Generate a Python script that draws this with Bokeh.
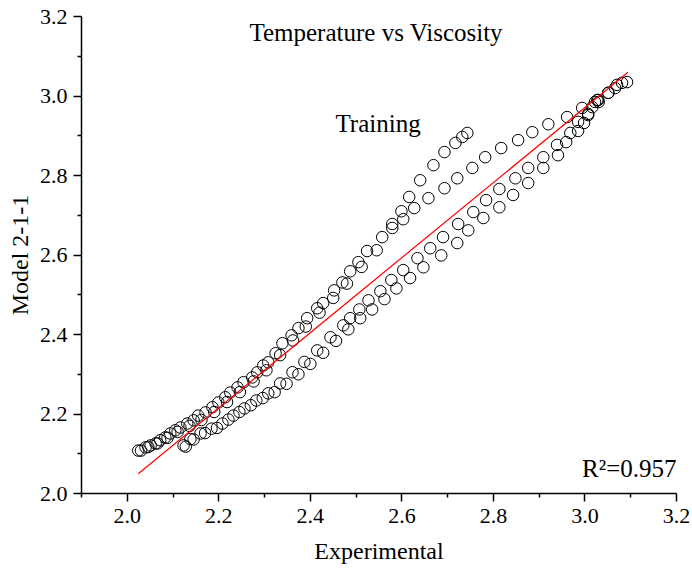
from bokeh.plotting import figure
from bokeh.models import FixedTicker, PrintfTickFormatter, Label, Range1d
from bokeh.embed import file_html
from bokeh.resources import INLINE

# Upper branch (steeper)
a_exp = [2.024,2.040,2.051,2.062,2.072,2.083,2.094,2.105,2.116,2.131,2.145,2.155,2.171,2.186,2.199,2.214,2.225,2.241,2.254,2.273,2.284,2.297,2.308,2.324,2.339,2.359,2.374,2.393,2.415,2.428,2.452,2.470,2.487,2.505,2.524,2.557,2.579,2.599,2.616,2.640,2.669,2.693,2.717,2.732,2.743]
a_mod = [2.108,2.116,2.121,2.126,2.134,2.141,2.151,2.159,2.166,2.176,2.184,2.196,2.204,2.217,2.229,2.242,2.254,2.267,2.280,2.292,2.305,2.322,2.330,2.353,2.378,2.398,2.416,2.441,2.466,2.479,2.511,2.531,2.559,2.582,2.610,2.645,2.678,2.710,2.746,2.788,2.826,2.859,2.882,2.897,2.907]

# Upper branch (less steep)
b_exp = [2.030,2.046,2.066,2.088,2.110,2.136,2.162,2.190,2.218,2.246,2.276,2.304,2.334,2.362,2.390,2.420,2.450,2.480,2.512,2.545,2.579,2.603,2.627,2.658,2.693,2.721,2.754,2.782,2.817,2.854,2.885,2.920,2.961,2.994,3.027,3.051,3.070,3.081,3.092]
b_mod = [2.108,2.117,2.126,2.140,2.155,2.170,2.185,2.205,2.230,2.255,2.282,2.310,2.348,2.385,2.420,2.455,2.492,2.528,2.570,2.612,2.668,2.690,2.718,2.743,2.768,2.793,2.819,2.846,2.869,2.889,2.909,2.929,2.947,2.970,2.990,3.008,3.028,3.033,3.035]

# Lower branch (upper row)
c_exp = [2.123,2.138,2.160,2.184,2.208,2.232,2.256,2.282,2.308,2.334,2.361,2.387,2.415,2.444,2.472,2.487,2.507,2.527,2.553,2.577,2.603,2.634,2.662,2.690,2.723,2.756,2.784,2.813,2.848,2.876,2.909,2.939,2.968,2.985,3.007,3.030,3.051,3.066]
c_mod = [2.121,2.137,2.151,2.163,2.176,2.196,2.214,2.234,2.252,2.277,2.305,2.331,2.360,2.393,2.423,2.441,2.463,2.486,2.509,2.537,2.562,2.592,2.617,2.645,2.678,2.708,2.738,2.766,2.793,2.819,2.846,2.877,2.907,2.935,2.955,2.985,3.008,3.020]

# Lower branch (lower row)
d_exp = [2.128,2.145,2.170,2.196,2.221,2.245,2.270,2.296,2.322,2.348,2.374,2.400,2.428,2.456,2.483,2.509,2.535,2.562,2.588,2.618,2.647,2.686,2.721,2.745,2.778,2.813,2.843,2.876,2.909,2.941,2.959,2.985,2.998,3.007,3.016,3.022,3.029]
d_mod = [2.118,2.136,2.152,2.165,2.186,2.205,2.222,2.240,2.255,2.276,2.300,2.326,2.354,2.384,2.413,2.441,2.463,2.489,2.516,2.542,2.569,2.599,2.630,2.662,2.693,2.720,2.751,2.781,2.819,2.851,2.884,2.912,2.932,2.952,2.972,2.985,2.990]

# Linear fit line
fit_x = [2.024, 3.094]
fit_intercept = 0.139
fit_slope = 0.944

x_ticks = [2.0, 2.2, 2.4, 2.6, 2.8, 3.0, 3.2]
x_minor = [1.9, 2.1, 2.3, 2.5, 2.7, 2.9, 3.1]
y_ticks = [2.0, 2.2, 2.4, 2.6, 2.8, 3.0, 3.2]
y_minor = [2.1, 2.3, 2.5, 2.7, 2.9, 3.1]

FONT = "Liberation Serif"

p = figure(width=692, height=575, output_backend="svg", toolbar_location=None,
           x_range=Range1d(1.9, 3.2), y_range=Range1d(2.0, 3.2),
           min_border_left=81, min_border_right=16, min_border_top=16, min_border_bottom=82)
p.outline_line_color = None
p.xgrid.visible = False
p.ygrid.visible = False
p.background_fill_color = "white"
p.border_fill_color = "white"

for ex, mo in [(a_exp, a_mod), (b_exp, b_mod), (c_exp, c_mod), (d_exp, d_mod)]:
    p.scatter(ex, mo, marker="circle", size=11.5, fill_alpha=0, line_color="black", line_width=1)

fit_y = [fit_intercept + fit_slope * v for v in fit_x]
p.line(fit_x, fit_y, line_color="red", line_width=1.2)

p.xaxis.ticker = FixedTicker(ticks=x_ticks, minor_ticks=x_minor)
p.yaxis.ticker = FixedTicker(ticks=y_ticks, minor_ticks=y_minor)
for ax in (p.xaxis[0], p.yaxis[0]):
    ax.formatter = PrintfTickFormatter(format="%.1f")
    ax.axis_line_width = 1.5
    ax.major_tick_line_width = 1.5
    ax.minor_tick_line_width = 1.5
    ax.major_tick_out = 8
    ax.major_tick_in = 0
    ax.minor_tick_out = 4
    ax.minor_tick_in = 0
    ax.major_label_text_font = FONT
    ax.major_label_text_font_size = "22px"
    ax.major_label_text_color = "black"
    ax.axis_label_text_font = FONT
    ax.axis_label_text_font_size = "24px"
    ax.axis_label_text_font_style = "normal"
    ax.axis_label_text_color = "black"
    ax.axis_line_color = "black"
    ax.major_tick_line_color = "black"
    ax.minor_tick_line_color = "black"

p.xaxis.axis_label = "Experimental"
p.yaxis.axis_label = "Model 2-1-1"
p.xaxis.major_label_standoff = 7
p.xaxis.axis_label_standoff = 12
p.yaxis.major_label_standoff = 6
p.yaxis.axis_label_standoff = 4

p.add_layout(Label(x=2.544, y=3.161, text="Temperature vs Viscosity", text_font=FONT,
                   text_font_size="25px", text_align="center", text_baseline="middle", text_color="black"))
p.add_layout(Label(x=2.548, y=2.932, text="Training", text_font=FONT,
                   text_font_size="25px", text_align="center", text_baseline="middle", text_color="black"))
p.add_layout(Label(x=3.2, y=2.063, text="R\u00b2=0.957", text_font=FONT,
                   text_font_size="25px", text_align="right", text_baseline="middle", text_color="black"))

open("out.html", "w").write(file_html(p, INLINE))
